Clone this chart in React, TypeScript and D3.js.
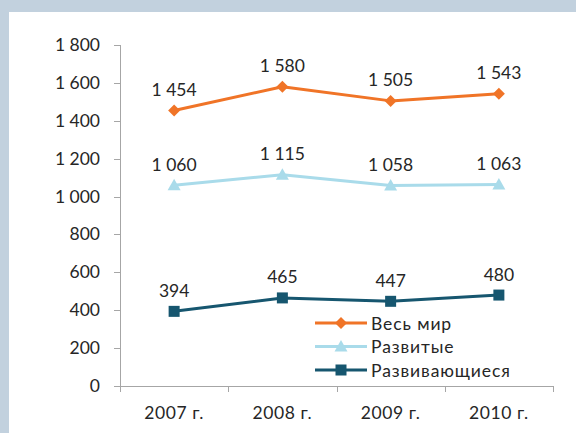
import React from "react";
import * as d3 from "d3";

const categories = ["2007 г.", "2008 г.", "2009 г.", "2010 г."];
const worldValues = [1454, 1580, 1505, 1543];
const developedValues = [1060, 1115, 1058, 1063];
const developingValues = [394, 465, 447, 480];
const seriesNames = ["Весь мир", "Развитые", "Развивающиеся"];
const yTicks = [0, 200, 400, 600, 800, 1000, 1200, 1400, 1600, 1800];

const W = 576;
const H = 433;
const FONT = "Lato, 'Open Sans', sans-serif";
const colors = ["#F07427", "#A9DBEA", "#16566F"];

const fmt = (v: number) => {
  const s = String(v);
  return s.length > 3 ? s.slice(0, s.length - 3) + " " + s.slice(-3) : s;
};

function Marker({ kind, x, y, color }: { kind: number; x: number; y: number; color: string }) {
  if (kind === 0) {
    const r = 6;
    return <path d={`M${x},${y - r}L${x + r},${y}L${x},${y + r}L${x - r},${y}Z`} fill={color} />;
  }
  if (kind === 1) {
    return <path d={`M${x},${y - 6.5}L${x + 6.5},${y + 5}L${x - 6.5},${y + 5}Z`} fill={color} />;
  }
  return <rect x={x - 5.5} y={y - 5.5} width={11} height={11} fill={color} />;
}

export default function App() {
  const x = d3.scaleBand<string>().domain(categories).range([120, 553]);
  const y = d3.scaleLinear().domain([0, 1800]).range([386, 45]);
  const series = [worldValues, developedValues, developingValues];
  const line = d3
    .line<number>()
    .x((_, i) => (x(categories[i]) as number) + x.bandwidth() / 2)
    .y((d) => y(d));
  const boundaries = categories.map((c) => x(c) as number).concat([553]);
  const axisColor = "#A6A6A6";
  const textColor = "#262626";

  return (
    <svg
      width={W}
      height={H}
      style={{ position: "absolute", left: 0, top: 0, display: "block" }}
      fontFamily={FONT}
    >
      <rect x={0} y={0} width={W} height={H} fill="#C2D1DE" />
      <rect x={9} y={12} width={W - 9} height={H - 12} fill="#FFFFFF" />

      {/* y axis */}
      <line x1={120.5} x2={120.5} y1={y(1800)} y2={y(0)} stroke={axisColor} strokeWidth={1} />
      {yTicks.map((t) => (
        <g key={t}>
          <line x1={114} x2={120.5} y1={Math.round(y(t)) + 0.5} y2={Math.round(y(t)) + 0.5} stroke={axisColor} />
          <text x={100} y={y(t) + 6} textAnchor="end" fontSize={17.5} fill={textColor}>
            {fmt(t)}
          </text>
        </g>
      ))}

      {/* x axis */}
      <line x1={120} x2={553.5} y1={386.5} y2={386.5} stroke={axisColor} />
      {boundaries.map((b, i) => (
        <line key={i} x1={Math.round(b) + 0.5} x2={Math.round(b) + 0.5} y1={386} y2={392} stroke={axisColor} />
      ))}
      {categories.map((c) => (
        <text
          key={c}
          x={(x(c) as number) + x.bandwidth() / 2}
          y={419}
          textAnchor="middle"
          fontSize={17.5}
          letterSpacing={0.6}
          fill={textColor}
        >
          {c}
        </text>
      ))}

      {/* series */}
      {series.map((vals, si) => (
        <g key={si}>
          <path d={line(vals) || ""} fill="none" stroke={colors[si]} strokeWidth={3} strokeLinejoin="round" />
          {vals.map((v, i) => {
            const cx = (x(categories[i]) as number) + x.bandwidth() / 2;
            const cy = y(v);
            return (
              <g key={i}>
                <Marker kind={si} x={cx} y={cy} color={colors[si]} />
                <text x={cx} y={cy - 14.5} textAnchor="middle" fontSize={17.5} fill={textColor}>
                  {fmt(v)}
                </text>
              </g>
            );
          })}
        </g>
      ))}

      {/* legend */}
      {seriesNames.map((n, i) => {
        const ly = 323 + i * 23.5;
        return (
          <g key={n}>
            <line x1={315} x2={367} y1={ly} y2={ly} stroke={colors[i]} strokeWidth={3} />
            <Marker kind={i} x={341} y={ly} color={colors[i]} />
            <text x={371} y={ly + 6.5} fontSize={17.5} letterSpacing={0.9} fill={textColor}>
              {n}
            </text>
          </g>
        );
      })}
    </svg>
  );
}
